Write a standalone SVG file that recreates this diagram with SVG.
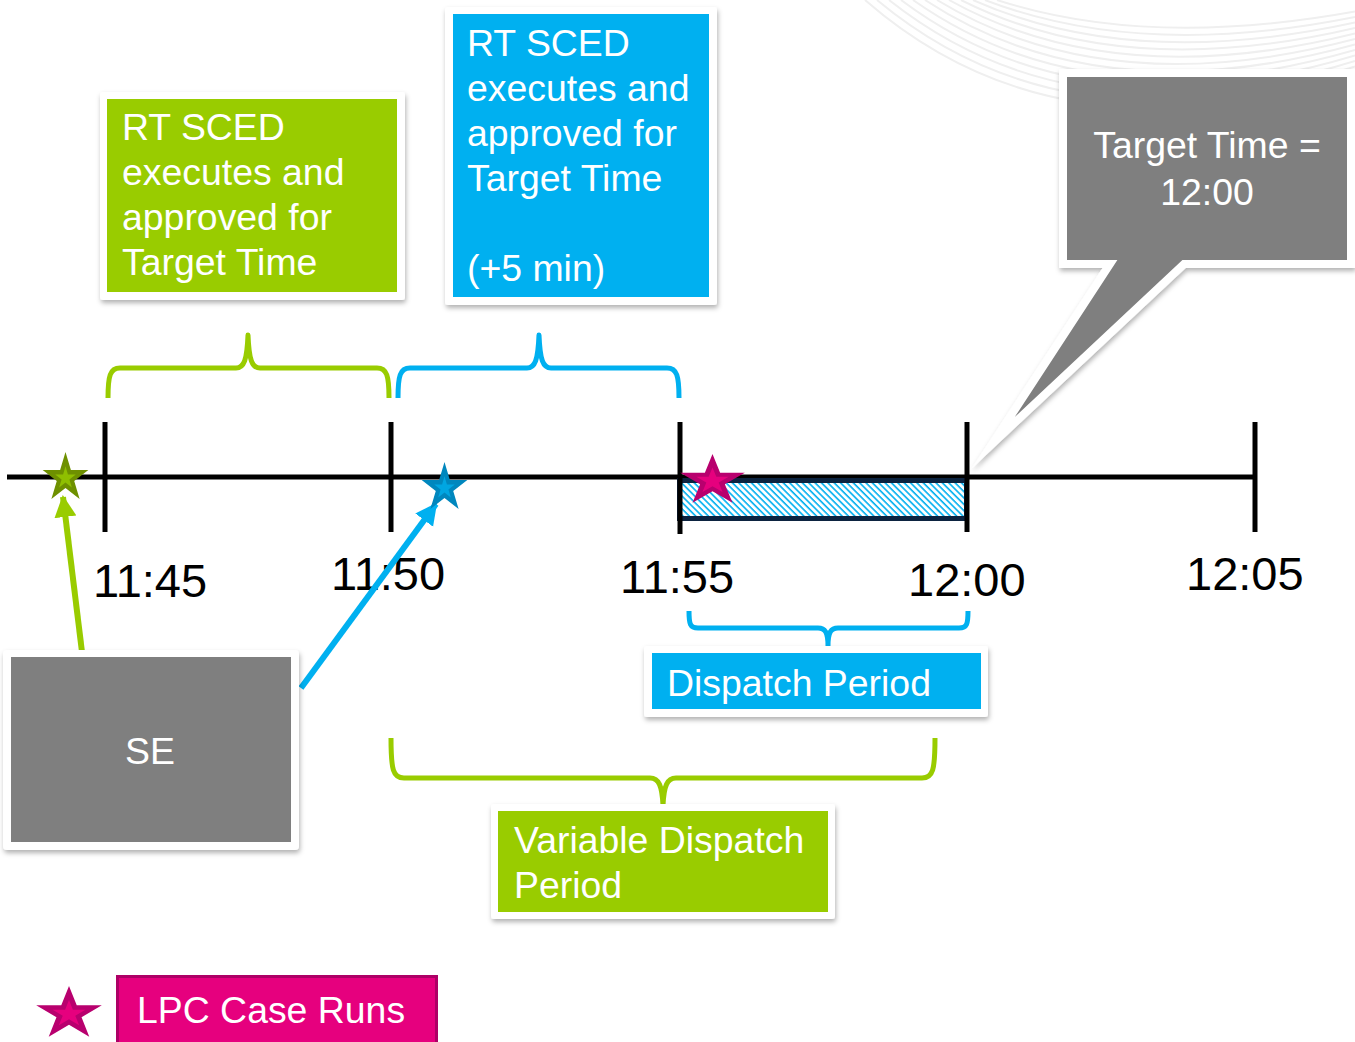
<svg xmlns="http://www.w3.org/2000/svg" width="1355" height="1042" viewBox="0 0 1355 1042">
<style>
.t{font-family:"Liberation Sans",Arial,sans-serif;font-size:37.4px;fill:#fff}
.lab{font-family:"Liberation Sans",Arial,sans-serif;font-size:47px;fill:#000}
.frame{fill:#fff;filter:url(#sh)}
.deco{fill:none;stroke:#efefef;stroke-width:2}
.br{fill:none;stroke-width:5;stroke-linecap:butt;stroke-linejoin:round}
.tick{stroke:#000;stroke-width:5}
</style>
<defs>
<filter id="sh" x="-10%" y="-10%" width="125%" height="130%">
<feDropShadow dx="1" dy="3" stdDeviation="2.5" flood-color="#000" flood-opacity="0.3"/>
</filter>
<pattern id="hatch" patternUnits="userSpaceOnUse" width="4.5" height="4.5" patternTransform="rotate(-45)">
<rect width="4.5" height="4.5" fill="#fff"/>
<line x1="1" y1="0" x2="1" y2="4.5" stroke="#00b0f0" stroke-width="1.6"/>
</pattern>
<polygon id="star" points="0,-1 0.2245,-0.309 0.9511,-0.309 0.3633,0.118 0.5878,0.809 0,0.382 -0.5878,0.809 -0.3633,0.118 -0.9511,-0.309 -0.2245,-0.309"/>
<marker id="ahG" markerUnits="userSpaceOnUse" markerWidth="24" markerHeight="24" refX="20" refY="11" orient="auto">
<path d="M0,0 L22,11 L0,22 Z" fill="#99cc00"/>
</marker>
<marker id="ahB" markerUnits="userSpaceOnUse" markerWidth="24" markerHeight="24" refX="20" refY="11" orient="auto">
<path d="M0,0 L22,11 L0,22 Z" fill="#00b0f0"/>
</marker>
</defs>

<g id="decoration">
<path class="deco" d="M865,0 Q1060,170 1355,72"/>
<path class="deco" d="M877,0 Q1068,159 1355,66.5"/>
<path class="deco" d="M889,0 Q1076,148 1355,61"/>
<path class="deco" d="M901,0 Q1084,137 1355,55.5"/>
<path class="deco" d="M913,0 Q1092,126 1355,50"/>
<path class="deco" d="M925,0 Q1100,115 1355,44.5"/>
<path class="deco" d="M937,0 Q1108,104 1355,39"/>
<path class="deco" d="M949,0 Q1116,93 1355,33.5"/>
<path class="deco" d="M961,0 Q1124,82 1355,28"/>
<path class="deco" d="M973,0 Q1132,71 1355,22.5"/>
<path class="deco" d="M985,0 Q1140,60 1355,17"/>
<path class="deco" d="M997,0 Q1148,49 1355,11.5"/>
</g>

<g id="box-rtsced-1">
<rect class="frame" x="100" y="92" width="305" height="208" rx="3"/>
<rect x="107" y="99" width="290" height="193" fill="#99cc00"/>
<text class="t" x="122" y="140">RT SCED</text>
<text class="t" x="122" y="185">executes and</text>
<text class="t" x="122" y="230">approved for</text>
<text class="t" x="122" y="275">Target Time</text>
</g>

<g id="box-rtsced-2">
<rect class="frame" x="445" y="7" width="272" height="298" rx="3"/>
<rect x="453" y="14" width="256" height="283" fill="#00b0f0"/>
<text class="t" x="467" y="56">RT SCED</text>
<text class="t" x="467" y="101">executes and</text>
<text class="t" x="467" y="146">approved for</text>
<text class="t" x="467" y="191">Target Time</text>
<text class="t" x="467" y="281">(+5 min)</text>
</g>

<g id="callout-target">
<path d="M1063,73 H1351 V264 H1184 L993,443 L1110,264 H1063 Z" fill="#7f7f7f" stroke="#fff" stroke-width="8" stroke-linejoin="miter" stroke-miterlimit="12" filter="url(#sh)"/>
<text class="t" x="1207" y="158" text-anchor="middle">Target Time =</text>
<text class="t" x="1207" y="205" text-anchor="middle">12:00</text>
</g>

<g id="braces">
<path class="br" stroke="#99cc00" d="M108,398 C108,376 110,368 120,368 H236 C244,368 247,360 248,335 C249,360 252,368 260,368 H377 C387,368 389,376 389,398"/>
<path class="br" stroke="#00b0f0" d="M398,398 C398,376 400,368 410,368 H527 C535,368 538,360 539,335 C540,360 543,368 551,368 H667 C677,368 679,376 679,398"/>
<path class="br" stroke="#00b0f0" stroke-width="4" d="M689,611 C689,624 690,628 698,628 H818 C825,628 828,632 828,646 C828,632 831,628 838,628 H959 C967,628 968,624 968,611"/>
<path class="br" stroke="#99cc00" d="M391,738 C391,770 393,778 404,778 H650 C659,778 662,786 663,805 C664,786 667,778 676,778 H922 C933,778 935,770 935,738"/>
</g>

<g id="timeline">
<line x1="7" y1="477" x2="1255" y2="477" stroke="#000" stroke-width="5"/>
<rect x="679.5" y="480.5" width="287" height="38" fill="url(#hatch)" stroke="#0c2340" stroke-width="5"/>
<line class="tick" x1="105" y1="422" x2="105" y2="532"/>
<line class="tick" x1="391" y1="422" x2="391" y2="532"/>
<line class="tick" x1="680" y1="422" x2="680" y2="534"/>
<line class="tick" x1="967" y1="422" x2="967" y2="532"/>
<line class="tick" x1="1255" y1="422" x2="1255" y2="532"/>
<text class="lab" x="93" y="597">11:45</text>
<text class="lab" x="331" y="590">11:50</text>
<text class="lab" x="620" y="593">11:55</text>
<text class="lab" x="908" y="596">12:00</text>
<text class="lab" x="1186" y="590">12:05</text>
</g>

<g id="connectors">
<line x1="82" y1="652" x2="63" y2="497" stroke="#99cc00" stroke-width="6" marker-end="url(#ahG)"/>
<line x1="301" y1="688" x2="436" y2="504" stroke="#00b0f0" stroke-width="6" marker-end="url(#ahB)"/>
</g>

<g id="stars">
<g transform="translate(65.5,478) scale(24,26)">
<use href="#star" fill="#6e9000"/>
<use href="#star" fill="#8fbf00" transform="scale(0.45)"/>
</g>
<g transform="translate(444.5,488) scale(24,26)">
<use href="#star" fill="#0087be"/>
<use href="#star" fill="#00a6e2" transform="scale(0.45)"/>
</g>
<g transform="translate(712.5,481) scale(34,27)">
<use href="#star" fill="#b8006e"/>
<use href="#star" fill="#e6007e" transform="scale(0.5)"/>
</g>
</g>

<g id="box-se">
<rect class="frame" x="3" y="650" width="296" height="200" rx="4"/>
<rect x="11" y="657" width="280" height="185" fill="#7f7f7f"/>
<text class="t" x="150" y="764" text-anchor="middle">SE</text>
</g>

<g id="box-dispatch">
<rect class="frame" x="644" y="646" width="344" height="71" rx="3"/>
<rect x="652" y="653" width="329" height="56" fill="#00b0f0"/>
<text class="t" x="667" y="696">Dispatch Period</text>
</g>

<g id="box-variable">
<rect class="frame" x="491" y="804" width="344" height="115" rx="3"/>
<rect x="498" y="811" width="330" height="101" fill="#99cc00"/>
<text class="t" x="514" y="853">Variable Dispatch</text>
<text class="t" x="514" y="898">Period</text>
</g>

<g id="legend">
<g transform="translate(69,1014) scale(34.5,28)">
<use href="#star" fill="#b8006e"/>
<use href="#star" fill="#e6007e" transform="scale(0.5)"/>
</g>
<rect x="117.5" y="976.5" width="319" height="70" fill="#e6007e" stroke="#ad0066" stroke-width="3"/>
<text class="t" x="137" y="1023">LPC Case Runs</text>
</g>
</svg>
